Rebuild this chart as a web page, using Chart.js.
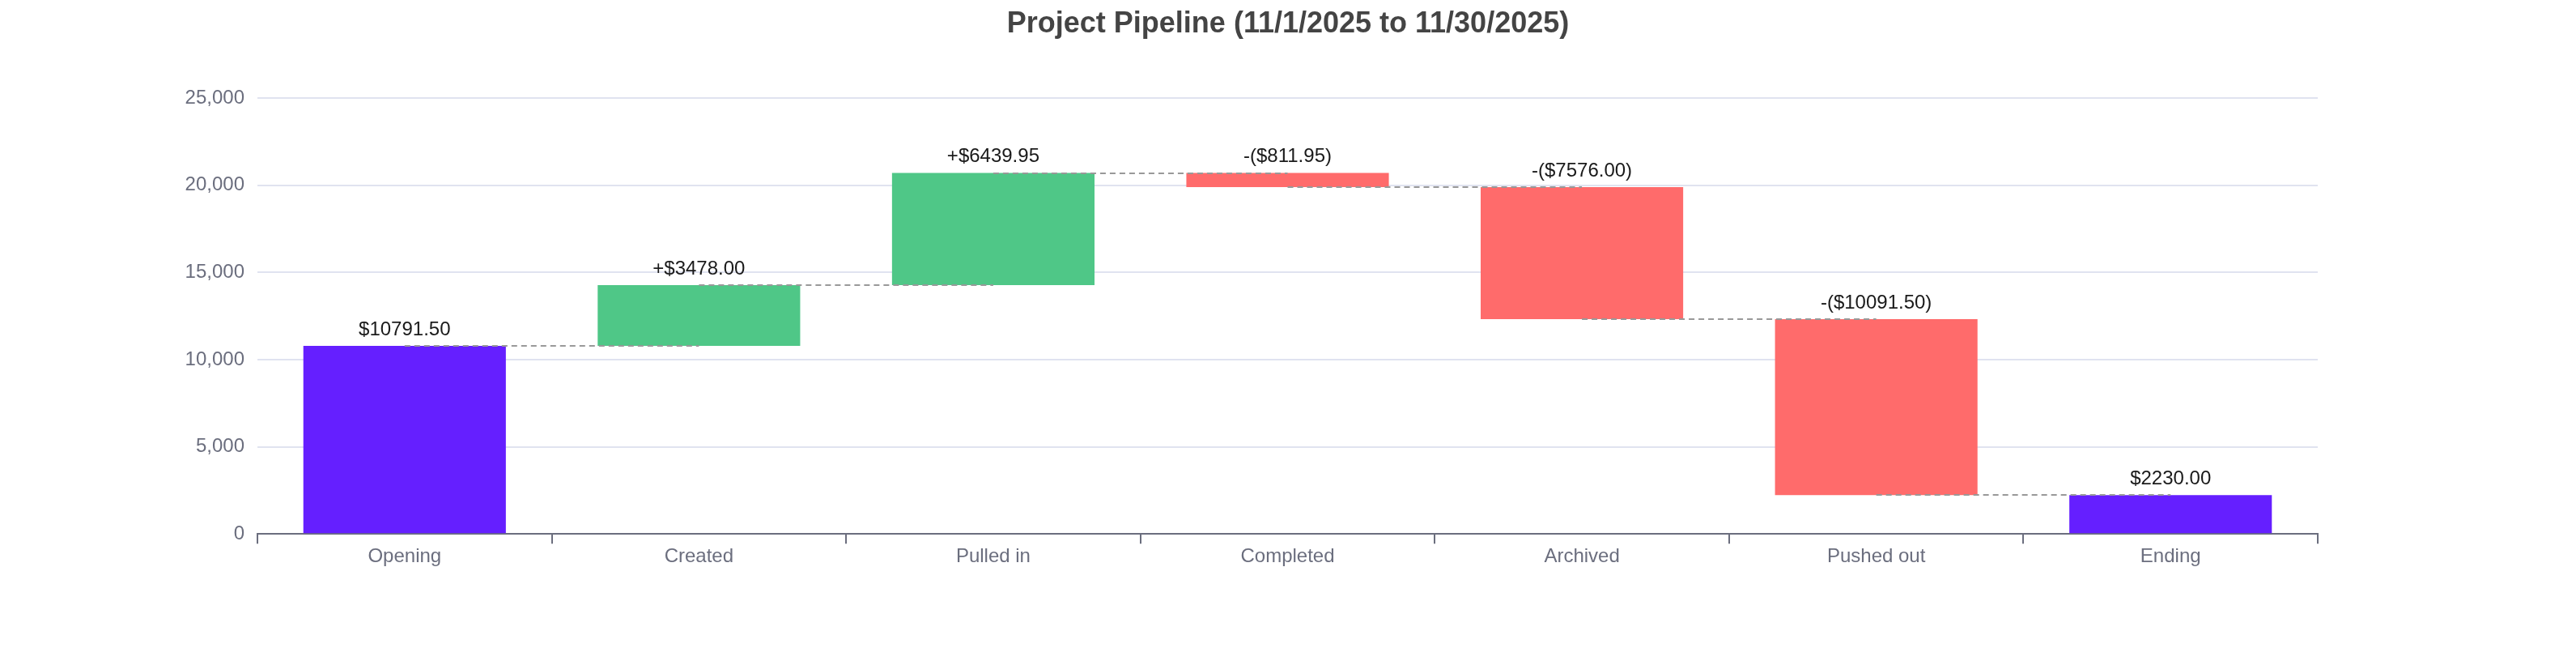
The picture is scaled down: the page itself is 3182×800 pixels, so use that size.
<!DOCTYPE html>
<html>
<head>
<meta charset="utf-8">
<script src="https://cdn.jsdelivr.net/npm/chart.js@4.4.1/dist/chart.umd.min.js"></script>
<style>
  html, body { margin: 0; padding: 0; background: #fff; }
  #wrap { width: 3182px; height: 800px; position: relative; }
</style>
</head>
<body>
<div id="wrap"><canvas id="pipelineChart"></canvas></div>
<script>
const categories = ['Opening', 'Created', 'Pulled in', 'Completed', 'Archived', 'Pushed out', 'Ending'];
const amounts = [10791.50, 3478.00, 6439.95, -811.95, -7576.00, -10091.50, 2230.00];
const kinds = ['total', 'delta', 'delta', 'delta', 'delta', 'delta', 'total'];
const yTicks = [0, 5000, 10000, 15000, 20000, 25000];

const COLORS = { total: '#651fff', up: '#4fc787', down: '#ff6b6b' };
const FONT = "'Liberation Sans', Arial, sans-serif";

// floating bars [start, end] from the running total
const ranges = [];
const levels = [];
let running = 0;
amounts.forEach((v, i) => {
    if (kinds[i] === 'total') {
        ranges.push([0, v]);
        running = v;
    } else {
        ranges.push([running, running + v]);
        running += v;
    }
    levels.push(running);
});

const barColors = amounts.map((v, i) => kinds[i] === 'total' ? COLORS.total : (v >= 0 ? COLORS.up : COLORS.down));

function fmtLabel(v, kind) {
    const s = '$' + Math.abs(v).toFixed(2);
    if (kind === 'total') return s;
    return v >= 0 ? '+' + s : '-(' + s + ')';
}

const connectors = {
    id: 'connectors',
    afterDatasetsDraw(chart) {
        const { ctx, scales: { x, y } } = chart;
        ctx.save();
        ctx.strokeStyle = '#999';
        ctx.lineWidth = 2;
        ctx.setLineDash([7, 5]);
        for (let i = 0; i < levels.length - 1; i++) {
            const py = Math.round(y.getPixelForValue(levels[i]));
            ctx.beginPath();
            ctx.moveTo(x.getPixelForValue(i), py);
            ctx.lineTo(x.getPixelForValue(i + 1), py);
            ctx.stroke();
        }
        ctx.restore();
    }
};

const valueLabels = {
    id: 'valueLabels',
    afterDatasetsDraw(chart) {
        const { ctx } = chart;
        const meta = chart.getDatasetMeta(0);
        ctx.save();
        ctx.font = '24px ' + FONT;
        ctx.fillStyle = '#1a1a1a';
        ctx.textAlign = 'center';
        ctx.textBaseline = 'bottom';
        meta.data.forEach((bar, i) => {
            const top = Math.min(bar.y, bar.base);
            ctx.fillText(fmtLabel(amounts[i], kinds[i]), bar.x, top - 8);
        });
        ctx.restore();
    }
};

new Chart(document.getElementById('pipelineChart'), {
    type: 'bar',
    data: {
        labels: categories,
        datasets: [{
            data: ranges,
            backgroundColor: barColors,
            borderWidth: 0,
            categoryPercentage: 0.8,
            barPercentage: 0.86
        }]
    },
    options: {
        responsive: true,
        maintainAspectRatio: false,
        animation: false,
        layout: { padding: { left: 100, right: 100, top: 0, bottom: 96 } },
        plugins: {
            legend: { display: false },
            tooltip: { enabled: false },
            title: {
                display: true,
                text: 'Project Pipeline (11/1/2025 to 11/30/2025)',
                color: '#444',
                font: { family: FONT, size: 36, weight: 'bold' },
                padding: { top: 8, bottom: 70 }
            }
        },
        scales: {
            x: {
                grid: { display: true, drawOnChartArea: false, tickLength: 12, color: '#6b6e7e', lineWidth: 2 },
                border: { color: '#6b6e7e', width: 2 },
                ticks: { color: '#6b6e7e', padding: 2, font: { family: FONT, size: 24 } }
            },
            y: {
                min: yTicks[0],
                max: yTicks[yTicks.length - 1],
                afterBuildTicks(axis) { axis.ticks = yTicks.map(v => ({ value: v })); },
                afterFit(axis) { axis.width = 218; },
                grid: { color: '#e0e3f0', lineWidth: 2, drawTicks: false },
                border: { display: false },
                ticks: {
                    color: '#6b6e7e',
                    padding: 16,
                    font: { family: FONT, size: 24 },
                    callback: (v) => v.toLocaleString('en-US')
                }
            },
            // empty right-hand gutter so the plot sits centred like the reference
            yRight: {
                position: 'right',
                min: yTicks[0],
                max: yTicks[yTicks.length - 1],
                afterFit(axis) { axis.width = 219; },
                grid: { display: false },
                border: { display: false },
                ticks: { display: false }
            }
        }
    },
    plugins: [connectors, valueLabels]
});
</script>
</body>
</html>
